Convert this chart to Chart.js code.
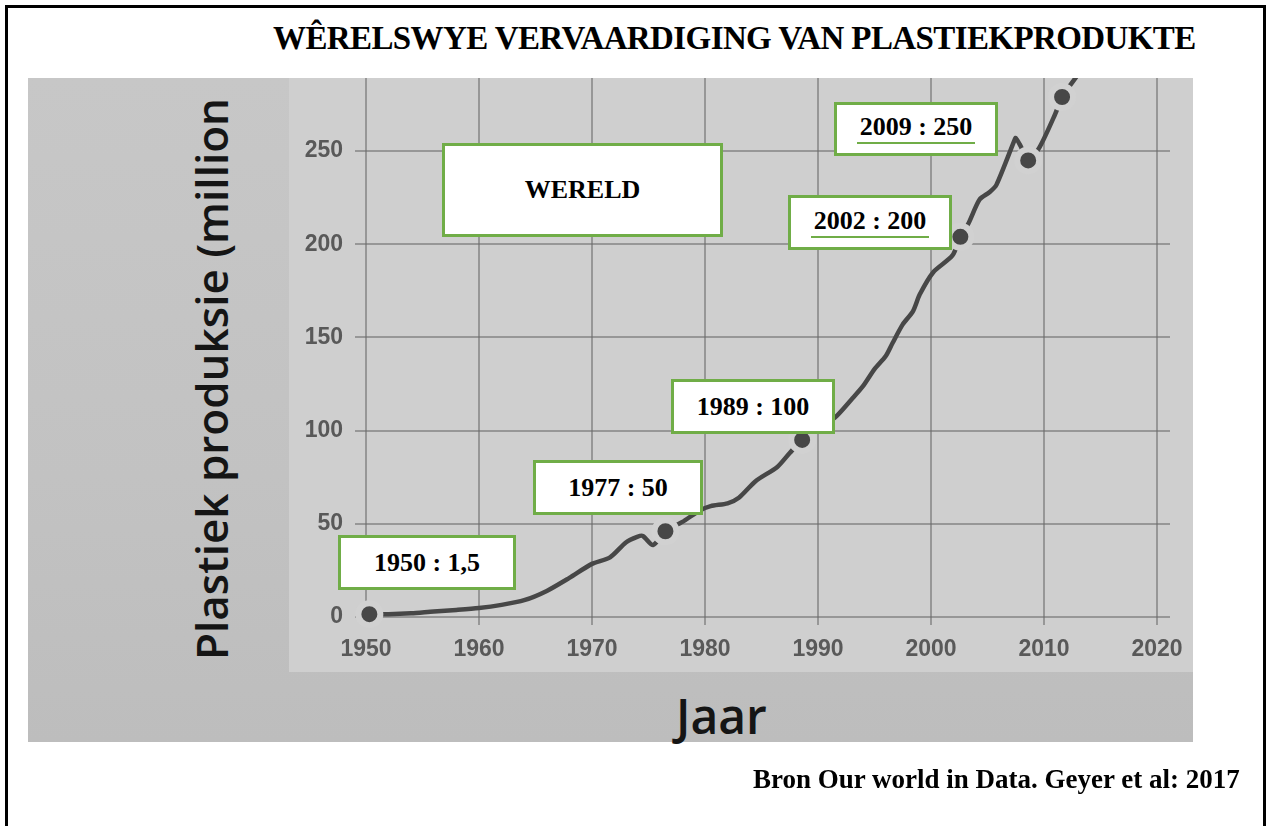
<!DOCTYPE html>
<html>
<head>
<meta charset="utf-8">
<script src="https://cdn.jsdelivr.net/npm/chart.js@4.4.1/dist/chart.umd.min.js"></script>
<style>
  html, body { margin: 0; padding: 0; background: #ffffff; overflow: hidden; }
  body { width: 1271px; height: 826px; position: relative; }
  .frame { position: absolute; left: 5px; top: 5px; width: 1255px; height: 900px; border: 3px solid #000; }
  .title { position: absolute; left: 273px; top: 22px; font: bold 33px "Liberation Serif", "Times New Roman", serif; letter-spacing: -0.6px; line-height: 1; white-space: nowrap; color: #000; }
  .source { position: absolute; left: 753px; top: 766px; font: bold 27px "Liberation Serif", "Times New Roman", serif; line-height: 1; white-space: nowrap; color: #000; }
  .outerPanel { position: absolute; left: 28px; top: 78px; width: 1165px; height: 664px;
    background: linear-gradient(180deg, #c7c7c7 0%, #c2c2c2 60%, #bdbdbd 100%); }
  .innerPanel { position: absolute; left: 289px; top: 78px; width: 904px; height: 594px; background: #cfcfcf; }
  .ytitle { position: absolute; left: 211px; top: 379px; transform: translate(-50%, -50%) rotate(-90deg);
    font: 600 44px "Open Sans", sans-serif; line-height: 1; white-space: nowrap; color: #151515; }
  .xtitle { position: absolute; left: 676px; top: 692px; font: 600 48px "Open Sans", sans-serif; line-height: 1; white-space: nowrap; color: #151515; }
  #wrap { position: absolute; left: 0; top: 0; width: 1271px; height: 826px; }
  .box { position: absolute; box-sizing: border-box; border: 3px solid #70ad47; background: #fff;
    display: flex; align-items: center; justify-content: center;
    font: bold 26px "Liberation Serif", "Times New Roman", serif; color: #000; white-space: nowrap; }
  .ul { border-bottom: 2px solid #70ad47; padding: 0 3px 2px 3px; line-height: 1; }
</style>
</head>
<body>
<div class="frame"></div>
<div class="title">WÊRELSWYE VERVAARDIGING VAN PLASTIEKPRODUKTE</div>
<div class="outerPanel"></div>
<div class="innerPanel"></div>
<div class="ytitle">Plastiek produksie (million</div>
<div class="xtitle">Jaar</div>
<div id="wrap"><canvas id="c" width="1271" height="826"></canvas></div>
<div class="box" style="left:442px;top:143px;width:281px;height:94px;">WERELD</div>
<div class="box" style="left:338px;top:535px;width:178px;height:55px;" id="a0"></div>
<div class="box" style="left:533px;top:460px;width:170px;height:55px;" id="a1"></div>
<div class="box" style="left:671px;top:379px;width:164px;height:55px;" id="a2"></div>
<div class="box" style="left:788px;top:195px;width:164px;height:55px;" id="a3"></div>
<div class="box" style="left:834px;top:102px;width:164px;height:54px;" id="a4"></div>
<div class="source">Bron Our world in Data. Geyer et al: 2017</div>
<script>
// ---- data ----
const years = [1950, 1952, 1954, 1956, 1958, 1960, 1962, 1964, 1966, 1968, 1970, 1971.6, 1973, 1974, 1974.5, 1975.4, 1976.5,
  1978, 1979.5, 1980.5, 1982, 1983, 1984.5, 1986.4, 1987.5, 1988.6, 1990, 1991.5, 1993, 1994, 1995, 1996, 1996.6, 1997.5,
  1998.4, 1999, 2000.2, 2001.9, 2002.6, 2003.3, 2004.3, 2005.2, 2005.8, 2007.4, 2007.5, 2007.9, 2008.6, 2009.6, 2011, 2011.6, 2013, 2014];
const production = [1.5, 1.5, 2, 3, 3.8, 4.8, 6.5, 9, 14, 21, 28.5, 32, 40, 43, 43.5, 38.6, 46,
  51, 57, 59.5, 61, 64, 73, 80.5, 88, 95, 101, 107, 117, 124, 133, 140, 147, 157,
  164, 173, 185, 194, 204, 211, 224, 228, 232, 256, 257, 253, 245, 252, 270, 279, 291, 300];
const markerYears = [1950.3, 1976.5, 1988.6, 2002.6, 2008.6, 2011.6];
const markerValues = [1.5, 46, 95, 204, 245, 279];
const xTickValues = [1950, 1960, 1970, 1980, 1990, 2000, 2010, 2020];
const yTickValues = [0, 50, 100, 150, 200, 250];
const calloutYears = ['1950', '1977', '1989', '2002', '2009'];
const calloutValues = ['1,5', '50', '100', '200', '250'];
const calloutUnderlined = [false, false, false, true, true];

// callout texts
calloutYears.forEach((y, i) => {
  const el = document.getElementById('a' + i);
  const txt = y + ' : ' + calloutValues[i];
  if (calloutUnderlined[i]) {
    const s = document.createElement('span');
    s.className = 'ul';
    s.textContent = txt;
    el.appendChild(s);
  } else {
    el.textContent = txt;
  }
});

const lineData = years.map((x, i) => ({ x: x, y: production[i] }));
const markerData = markerYears.map((x, i) => ({ x: x, y: markerValues[i] }));

const tickFont = { family: '"Liberation Sans", Arial, sans-serif', size: 23, weight: 'bold' };

new Chart(document.getElementById('c'), {
  type: 'line',
  data: {
    datasets: [
      {
        label: 'merkers',
        data: markerData,
        showLine: false,
        pointRadius: 11,
        pointHoverRadius: 11,
        pointBorderWidth: 6,
        pointBackgroundColor: '#474747',
        pointBorderColor: '#d1d1d1',
        clip: false,
        order: 0
      },
      {
        label: 'Wêreld',
        data: lineData,
        borderColor: '#474747',
        borderWidth: 4.5,
        borderCapStyle: 'round',
        borderJoinStyle: 'round',
        pointRadius: 0,
        tension: 0.25,
        fill: false,
        order: 1
      }
    ]
  },
  options: {
    responsive: false,
    animation: false,
    devicePixelRatio: 1,
    layout: { padding: { left: 290, top: 78, right: 101, bottom: 150 } },
    plugins: { legend: { display: false }, tooltip: { enabled: false }, title: { display: false } },
    scales: {
      x: {
        type: 'linear',
        min: 1949.03,
        max: 2021.15,
        afterBuildTicks: (s) => { s.ticks = xTickValues.map(v => ({ value: v })); },
        afterFit: (s) => { s.height = 51; },
        grid: { color: 'rgba(105,105,105,0.55)', lineWidth: 2, drawTicks: false },
        border: { display: false },
        ticks: { font: tickFont, color: '#595959', padding: 11, maxRotation: 0, autoSkip: false,
          callback: (v) => String(v) }
      },
      y: {
        type: 'linear',
        min: -4.3,
        max: 289.2,
        afterBuildTicks: (s) => { s.ticks = yTickValues.map(v => ({ value: v })); },
        afterFit: (s) => { s.width = 65; },
        grid: { color: 'rgba(105,105,105,0.55)', lineWidth: 2, drawTicks: false },
        border: { display: false },
        ticks: { font: tickFont, color: '#595959', padding: 12, autoSkip: false,
          callback: (v) => String(v) }
      }
    }
  }
});
</script>
</body>
</html>
